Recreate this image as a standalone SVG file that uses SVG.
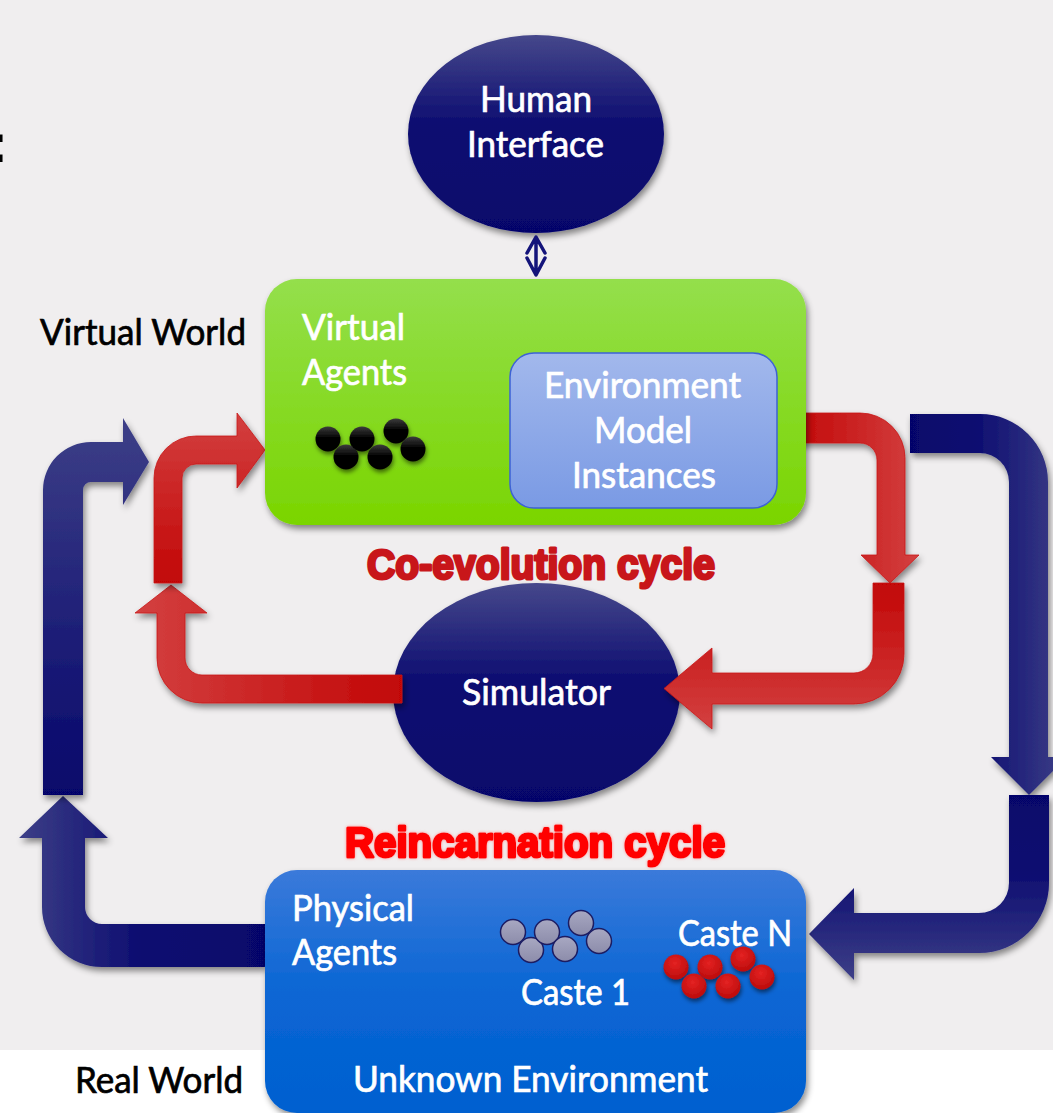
<svg xmlns="http://www.w3.org/2000/svg" width="1053" height="1113" viewBox="0 0 1053 1113">
  <defs>
    <filter id="shadow" x="-20%" y="-20%" width="140%" height="140%">
      <feDropShadow dx="2" dy="4" stdDeviation="3" flood-color="#000" flood-opacity="0.45"/>
    </filter>
    <filter id="ballShadow" x="-40%" y="-40%" width="180%" height="180%">
      <feDropShadow dx="1" dy="3" stdDeviation="2" flood-color="#000" flood-opacity="0.5"/>
    </filter>
    <filter id="glow" x="-5%" y="-30%" width="110%" height="160%">
      <feGaussianBlur in="SourceAlpha" stdDeviation="1.5" result="b"/>
      <feFlood flood-color="#ff8080" flood-opacity="0.8"/>
      <feComposite in2="b" operator="in" result="g"/>
      <feMerge><feMergeNode in="g"/><feMergeNode in="SourceGraphic"/></feMerge>
    </filter>
    <linearGradient id="navyEllipse" x1="0" y1="0" x2="0" y2="1">
      <stop offset="0" stop-color="#46488b"/>
      <stop offset="0.45" stop-color="#0d0d71"/>
      <stop offset="1" stop-color="#06066b"/>
    </linearGradient>
    <linearGradient id="greenBox" x1="0" y1="0" x2="0" y2="1">
      <stop offset="0" stop-color="#94df4c"/>
      <stop offset="1" stop-color="#7ad500"/>
    </linearGradient>
    <linearGradient id="envBox" x1="0" y1="0" x2="0" y2="1">
      <stop offset="0" stop-color="#a2b8ec"/>
      <stop offset="1" stop-color="#7a9ae4"/>
    </linearGradient>
    <linearGradient id="blueBox" x1="0" y1="0" x2="0" y2="1">
      <stop offset="0" stop-color="#3b7ada"/>
      <stop offset="0.5" stop-color="#0a66d4"/>
      <stop offset="1" stop-color="#0060d0"/>
    </linearGradient>
    <!-- arrow fills -->
    <linearGradient id="redH" x1="0" y1="0" x2="1" y2="0">
      <stop offset="0" stop-color="#c20606"/>
      <stop offset="1" stop-color="#d34040"/>
    </linearGradient>
    <linearGradient id="redHrev" x1="1" y1="0" x2="0" y2="0">
      <stop offset="0" stop-color="#c20606"/>
      <stop offset="1" stop-color="#d34040"/>
    </linearGradient>
    <linearGradient id="redV" x1="0" y1="1" x2="0" y2="0">
      <stop offset="0" stop-color="#c20606"/>
      <stop offset="1" stop-color="#d34040"/>
    </linearGradient>
    <linearGradient id="redVdown" x1="0" y1="0" x2="0" y2="1">
      <stop offset="0" stop-color="#c20606"/>
      <stop offset="1" stop-color="#d34040"/>
    </linearGradient>
    <linearGradient id="navyUp" x1="0" y1="1" x2="0" y2="0">
      <stop offset="0" stop-color="#06066b"/>
      <stop offset="1" stop-color="#3d3f87"/>
    </linearGradient>
    <linearGradient id="navyLeft" x1="1" y1="0" x2="0" y2="0">
      <stop offset="0" stop-color="#06066b"/>
      <stop offset="0.5" stop-color="#0c0c70"/>
      <stop offset="1" stop-color="#3d3f87"/>
    </linearGradient>
    <linearGradient id="navyRight" x1="0" y1="0" x2="1" y2="0">
      <stop offset="0" stop-color="#06066b"/>
      <stop offset="0.4" stop-color="#0c0c70"/>
      <stop offset="1" stop-color="#3d3f87"/>
    </linearGradient>
    <linearGradient id="navyDown" x1="0" y1="0" x2="0" y2="1">
      <stop offset="0" stop-color="#06066b"/>
      <stop offset="0.4" stop-color="#0c0c70"/>
      <stop offset="1" stop-color="#3d3f87"/>
    </linearGradient>
    <linearGradient id="blackBall" x1="0" y1="0" x2="0" y2="1">
      <stop offset="0" stop-color="#3c3c3c"/>
      <stop offset="0.45" stop-color="#050505"/>
      <stop offset="1" stop-color="#000"/>
    </linearGradient>
    <linearGradient id="greyBall" x1="0" y1="0" x2="0" y2="1">
      <stop offset="0" stop-color="#a8a8c2"/>
      <stop offset="1" stop-color="#8c8caa"/>
    </linearGradient>
    <radialGradient id="redBall" cx="0.45" cy="0.35" r="0.7">
      <stop offset="0" stop-color="#e42222"/>
      <stop offset="1" stop-color="#b80a0a"/>
    </radialGradient>
    <circle id="ball" r="12.5"/>
  </defs>
  <style>
    .lbl { font-family: Lato, "Open Sans", "Liberation Sans", sans-serif; fill: #fff; stroke: #fff; stroke-width: 0.7px; font-size: 36px; }
    .side { font-family: Lato, "Open Sans", "Liberation Sans", sans-serif; fill: #000; stroke: #000; stroke-width: 0.7px; font-size: 36px; }
    .cycle { font-family: "Liberation Sans", Arial, sans-serif; font-weight: bold; font-size: 42px; stroke-linejoin: round; stroke-width: 3px; }
    .connector { filter: url(#shadow); }
  </style>

  <!-- backdrop -->
  <rect x="0" y="0" width="1053" height="1050" fill="#f0eeef"/>
  <rect x="0" y="1050" width="1053" height="63" fill="#ffffff"/>
  <text x="-10" y="162" font-family="Liberation Sans, sans-serif" font-weight="bold" font-size="53" fill="#000">:</text>

  <!-- side captions -->
  <text class="side" x="40" y="345" textLength="206" lengthAdjust="spacingAndGlyphs">Virtual World</text>
  <text class="side" x="75" y="1093" textLength="168" lengthAdjust="spacingAndGlyphs">Real World</text>

  <!-- Simulator -->
  <g id="simulator">
    <ellipse cx="536.5" cy="692.5" rx="143.5" ry="109.5" fill="url(#navyEllipse)" filter="url(#shadow)"/>
    <text class="lbl" x="462" y="705" textLength="149" lengthAdjust="spacingAndGlyphs">Simulator</text>
  </g>

  <!-- Human Interface -->
  <g id="human-interface">
    <ellipse cx="536" cy="134" rx="128" ry="99" fill="url(#navyEllipse)" filter="url(#shadow)"/>
    <text class="lbl" x="480" y="112" textLength="112" lengthAdjust="spacingAndGlyphs">Human</text>
    <text class="lbl" x="467" y="157" textLength="137" lengthAdjust="spacingAndGlyphs">Interface</text>
  </g>

  <!-- connectors -->
  <g id="connectors">
    <!-- human interface <-> virtual world -->
    <path d="M527,253 L536,237 L545,253 M527,258 L536,275 L545,258 M536,240 V273" fill="none" stroke="#14147a" stroke-width="3.5" stroke-linecap="round" stroke-linejoin="round"/>
    <!-- co-evolution cycle -->
    <path class="connector" d="M790,413 H860 A45,45 0 0 1 905,458 V555 H919 L890,583 L861,555 H877 V460 A17,17 0 0 0 860,443 H790 Z" fill="url(#redH)" stroke="#c81818" stroke-width="0.8"/>
    <path class="connector" d="M873,583 H904 V654 A50,50 0 0 1 854,704 H712 V729 L664,688.5 L712,648 V673 H854 A19,19 0 0 0 873,654 Z" fill="url(#redVdown)" stroke="#c81818" stroke-width="0.8"/>
    <path class="connector" d="M402,675 H202 A17,17 0 0 1 185,658 V613 H207 L171,585 L135,613 H157 V658 A45,45 0 0 0 202,703 H402 Z" fill="url(#redHrev)" stroke="#c81818" stroke-width="0.8"/>
    <path class="connector" d="M154,583 V478 A42,42 0 0 1 196,436 H237 V413 L265,450 L237,488 V464 H196 A14,14 0 0 0 182,478 V583 Z" fill="url(#redV)" stroke="#c81818" stroke-width="0.8"/>
    <!-- reincarnation cycle -->
    <path class="connector" d="M910,414 H980 A68,68 0 0 1 1048,482 V757 H1067 L1029,795 L991,757 H1009 V482 A29,29 0 0 0 980,453 H910 Z" fill="url(#navyRight)"/>
    <path class="connector" d="M1009,795 H1049 V883 A70,70 0 0 1 979,953 H854 V980 L809,934 L854,888 V913 H979 A30,30 0 0 0 1009,883 Z" fill="url(#navyDown)"/>
    <path class="connector" d="M265,924 H102 A17,17 0 0 1 85,907 V838 H108 L63,796 L19,838 H42 V907 A60,60 0 0 0 102,967 H265 Z" fill="url(#navyLeft)"/>
    <path class="connector" d="M43,795 V490 A48,48 0 0 1 91,442 H123 V418 L149,462 L123,505 V482 H91 A8,8 0 0 0 83,490 V795 Z" fill="url(#navyUp)"/>
  </g>

  <!-- Virtual World box -->
  <g id="virtual-agents">
    <rect x="265" y="279" width="541" height="246" rx="32" fill="url(#greenBox)" filter="url(#shadow)"/>
    <text class="lbl" x="302" y="340" textLength="103" lengthAdjust="spacingAndGlyphs">Virtual</text>
    <text class="lbl" x="302" y="385" textLength="105" lengthAdjust="spacingAndGlyphs">Agents</text>
    <g fill="url(#blackBall)" filter="url(#ballShadow)">
      <use href="#ball" x="328" y="439"/>
      <use href="#ball" x="346" y="457"/>
      <use href="#ball" x="362" y="439"/>
      <use href="#ball" x="380" y="457"/>
      <use href="#ball" x="396" y="431"/>
      <use href="#ball" x="413" y="449"/>
    </g>
  </g>

  <g id="environment-model">
    <rect x="510" y="353" width="267" height="155" rx="24" fill="url(#envBox)" stroke="#3d62d6" stroke-width="1.5"/>
    <text class="lbl" x="544" y="398" textLength="197" lengthAdjust="spacingAndGlyphs">Environment</text>
    <text class="lbl" x="594" y="443" textLength="98" lengthAdjust="spacingAndGlyphs">Model</text>
    <text class="lbl" x="572" y="488" textLength="144" lengthAdjust="spacingAndGlyphs">Instances</text>
  </g>

  <!-- cycle captions -->
  <text class="cycle" x="367" y="579" fill="#c8161a" stroke="#c8161a" textLength="348" lengthAdjust="spacingAndGlyphs">Co-evolution cycle</text>
  <text class="cycle" x="345" y="857" fill="#ff0000" stroke="#ff0000" filter="url(#glow)" textLength="380" lengthAdjust="spacingAndGlyphs">Reincarnation cycle</text>

  <!-- Real World box -->
  <g id="physical-agents">
    <rect x="265" y="870" width="541" height="243" rx="32" fill="url(#blueBox)" filter="url(#shadow)"/>
    <text class="lbl" x="292" y="921" textLength="122" lengthAdjust="spacingAndGlyphs">Physical</text>
    <text class="lbl" x="292" y="965" textLength="105" lengthAdjust="spacingAndGlyphs">Agents</text>
    <text class="lbl" x="353" y="1092" textLength="355" lengthAdjust="spacingAndGlyphs">Unknown Environment</text>
  </g>

  <g id="caste-1">
    <g fill="url(#greyBall)" stroke="#1c1c62" stroke-width="1.5">
      <use href="#ball" x="513" y="932"/>
      <use href="#ball" x="531" y="950"/>
      <use href="#ball" x="547" y="932"/>
      <use href="#ball" x="565" y="949"/>
      <use href="#ball" x="581" y="923"/>
      <use href="#ball" x="599" y="941"/>
    </g>
    <text class="lbl" x="521" y="1005" textLength="109" lengthAdjust="spacingAndGlyphs">Caste 1</text>
  </g>

  <g id="caste-n">
    <text class="lbl" x="678" y="946" textLength="114" lengthAdjust="spacingAndGlyphs">Caste N</text>
    <g fill="url(#redBall)" filter="url(#ballShadow)">
      <use href="#ball" x="676" y="967"/>
      <use href="#ball" x="694" y="986"/>
      <use href="#ball" x="710" y="967"/>
      <use href="#ball" x="728" y="986"/>
      <use href="#ball" x="743" y="959"/>
      <use href="#ball" x="762" y="977"/>
    </g>
  </g>
</svg>
